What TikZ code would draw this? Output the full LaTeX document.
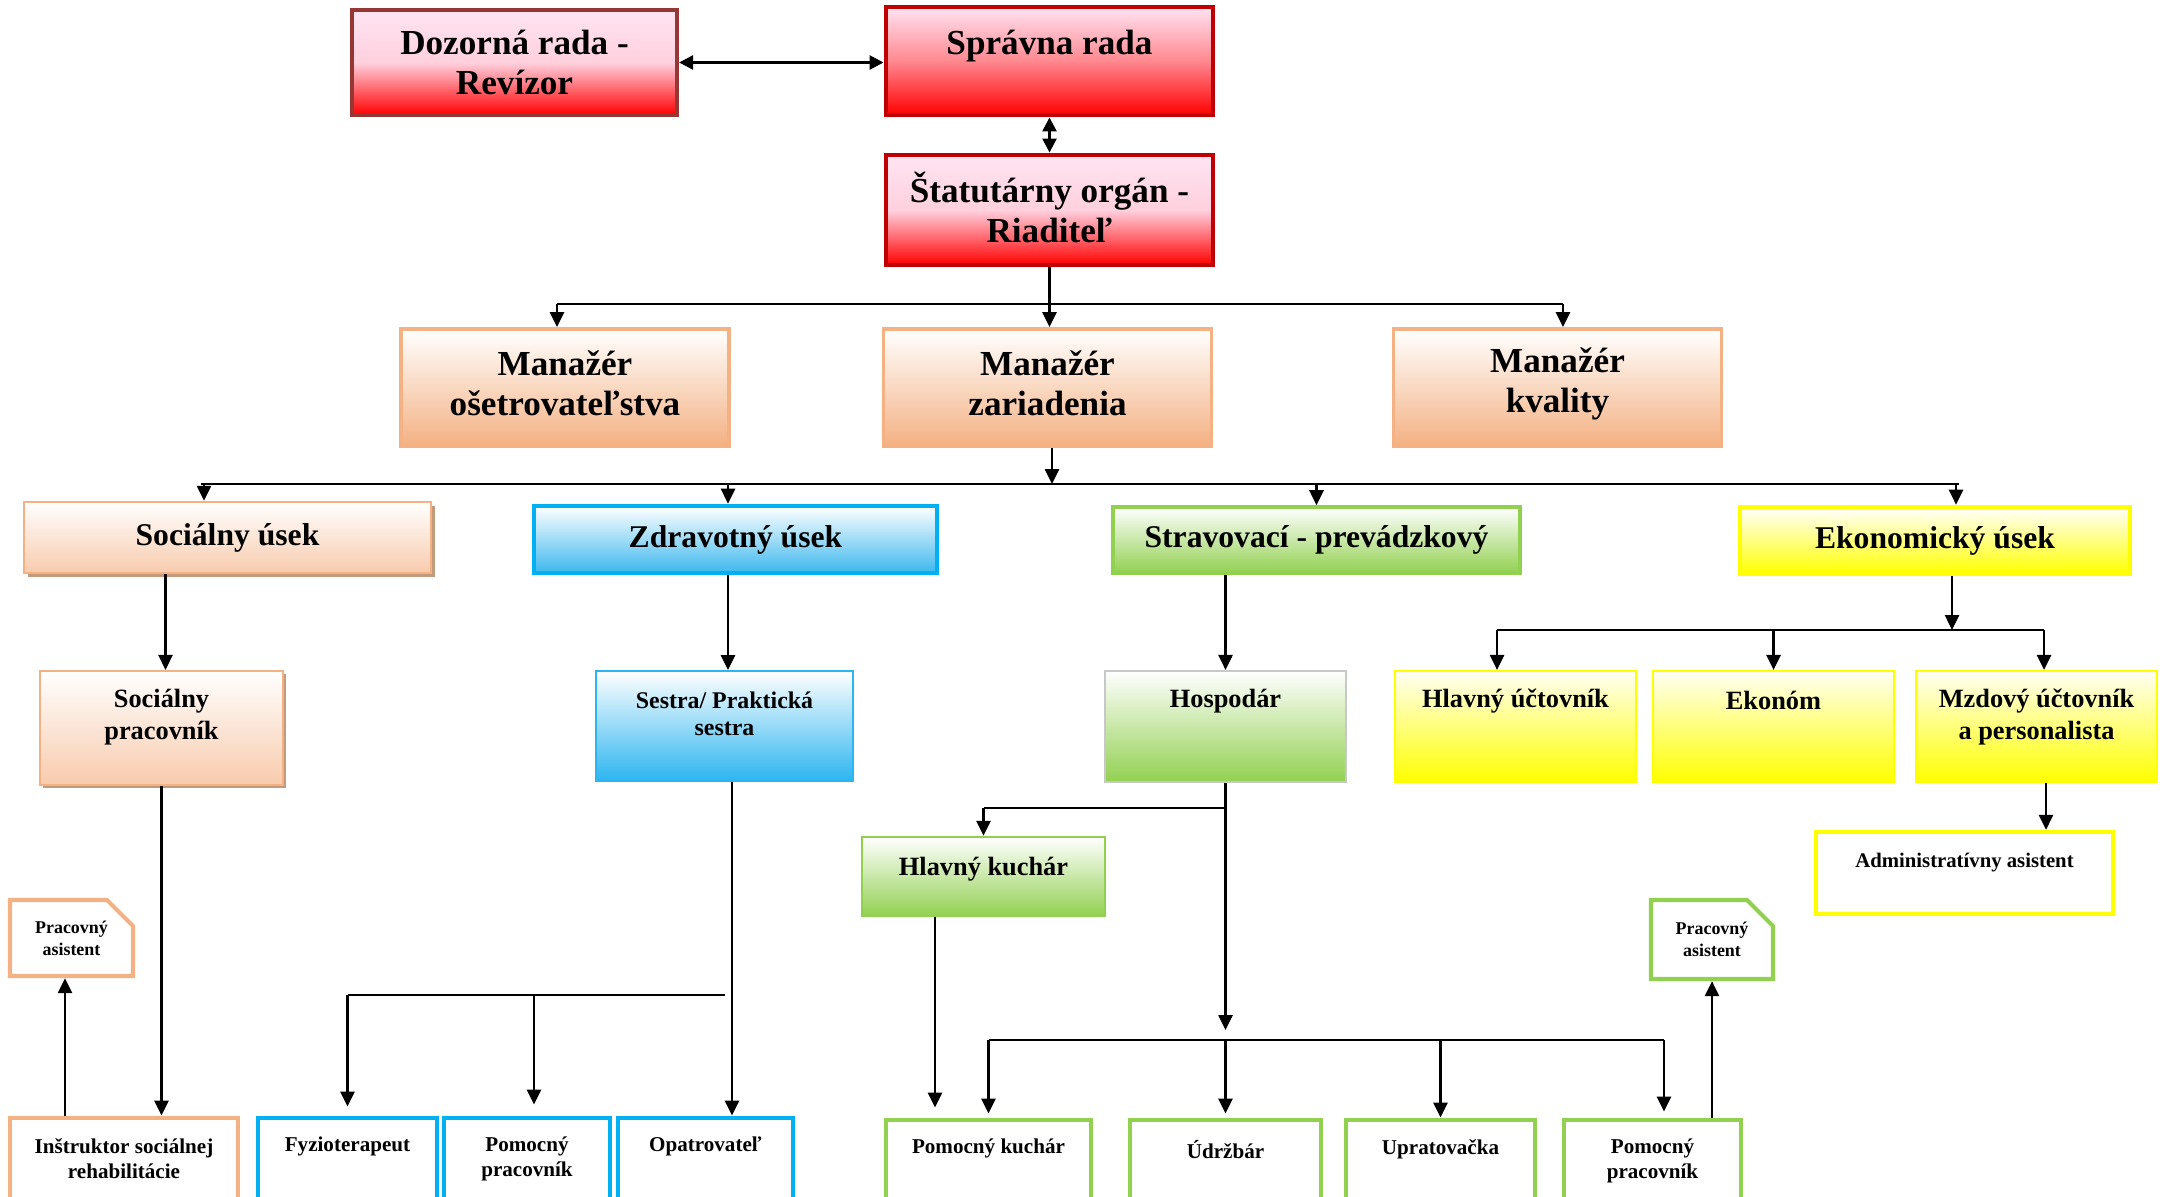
\documentclass[tikz,border=0pt]{standalone}
\usepackage{fontspec}
\setmainfont{Liberation Serif}
\usetikzlibrary{positioning,arrows.meta,shapes.misc,shadows}
\definecolor{redline}{HTML}{C00000}
\definecolor{dozline}{HTML}{953735}
\definecolor{redtop}{HTML}{FFE4F2}
\definecolor{redmid}{HTML}{FFD0DE}
\definecolor{redmidii}{HTML}{FF8890}
\definecolor{redbot}{HTML}{FF0000}
\definecolor{orange}{HTML}{F4B183}
\definecolor{orangelt}{HTML}{F8CBAD}
\definecolor{socshadow}{HTML}{C49A7C}
\definecolor{blue}{HTML}{00B0F0}
\definecolor{bluebot}{HTML}{3DB8EE}
\definecolor{bluelt}{HTML}{2CB5F0}
\definecolor{green}{HTML}{92D050}
\definecolor{grayline}{HTML}{C8C8C8}
\definecolor{yellow}{HTML}{FFFF00}
\definecolor{yellowtop}{HTML}{FFFFF4}
\tikzset{
  fx/.style      = {font=\fontsize{10}{11.4}\selectfont\bfseries},
  fix/.style     = {font=\fontsize{9}{10.5}\selectfont\bfseries},
  fvii/.style    = {font=\fontsize{7.5}{9}\selectfont\bfseries},
  fvis/.style    = {font=\fontsize{6.8}{7.7}\selectfont\bfseries},
  fvi/.style     = {font=\fontsize{6}{7.1}\selectfont\bfseries},
  fv/.style      = {font=\fontsize{5.1}{6.2}\selectfont\bfseries},
  lab/.style     = {inner sep=0pt, align=center, anchor=center},
  box/.style     = {rectangle, inner sep=1pt, align=center},
  dozorbox/.style= {box, fx, draw=dozline, line width=1.2pt, top color=redtop, bottom color=redbot, middle color=redmid},
  redbox/.style  = {box, fx, draw=redline, line width=1.4pt, top color=redtop, bottom color=redbot, middle color=redmid},
  manbox/.style  = {box, fx, draw=orange, line width=1.1pt, top color=white, bottom color=orange},
  socdept/.style = {box, fix, draw=orange, line width=0.7pt, top color=white, bottom color=orangelt,
                    drop shadow={shadow xshift=0.35mm, shadow yshift=-0.35mm, fill=socshadow, opacity=1}},
  zdrdept/.style = {box, fix, draw=blue, line width=1.3pt, top color=white, bottom color=bluebot},
  strdept/.style = {box, fix, draw=green, line width=1pt, top color=white, bottom color=green},
  ekodept/.style = {box, fix, draw=yellow, line width=1.3pt, top color=white, bottom color=yellow},
  socpos/.style  = {box, draw=orange, line width=0.6pt, top color=white, bottom color=orangelt,
                    drop shadow={shadow xshift=0.3mm, shadow yshift=-0.3mm, fill=socshadow, opacity=1}},
  sespos/.style  = {box, draw=bluelt, line width=0.5pt, top color=white, bottom color=bluelt},
  hospos/.style  = {box, draw=grayline, line width=0.6pt, top color=white, bottom color=green},
  kucpos/.style  = {box, draw=green, line width=0.7pt, top color=white, bottom color=green},
  ekopos/.style  = {box, draw=yellow, line width=0.6pt, top color=yellowtop, bottom color=yellow},
  leaf/.style    = {box, fill=white, line width=1.4pt, draw=#1},
  pasbox/.style  = {chamfered rectangle, chamfered rectangle corners=north east,
                    chamfered rectangle xsep=1.3mm, chamfered rectangle ysep=1.3mm,
                    inner sep=0pt, fv, align=center, fill=white, line width=1.2pt, draw=#1},
  conn/.style    = {draw=black, line width=0.75pt},
  arr/.style     = {conn, -{Triangle[length=1.5mm,width=1.4mm]}},
  arrboth/.style = {conn, {Triangle[length=1.4mm,width=1.4mm]}-{Triangle[length=1.4mm,width=1.4mm]}},
}
\begin{document}
\begin{tikzpicture}[x=0.1mm,y=-0.1mm]
\path[use as bounding box, fill=white] (0,0) rectangle (2174,1197);

% ---------- vedenie ----------
\node[dozorbox, minimum width=32.5mm, minimum height=10.5mm] (dozor) at (514.5,62.5) {Dozorná rada -\\Revízor};
\node[redbox, minimum width=32.7mm, minimum height=10.8mm, middle color=redmidii,
      label={[lab, fx, yshift=-4.1mm]north:Správna rada}] (sprava) at (1049.5,61) {};
\node[redbox, minimum width=32.7mm, minimum height=11mm,
      label={[lab, fx, yshift=0.3mm]center:Štatutárny orgán -\\Riaditeľ}] (statut) at (1049.5,210) {};

\draw[arrboth] (dozor.east) -- (dozor.east -| sprava.west);
\draw[arrboth] (sprava.south) -- (statut.north);

% ---------- manazeri ----------
\node[manbox, minimum width=32.8mm, minimum height=11.7mm,
      label={[lab, fx, yshift=0.4mm]center:Manažér\\ošetrovateľstva}] (man1) at (565,387.5) {};
\node[manbox, minimum width=32.8mm, minimum height=11.7mm,
      label={[lab, fx, yshift=0.4mm]center:Manažér\\zariadenia}] (man2) at (1047.5,387.5) {};
\node[manbox, minimum width=32.8mm, minimum height=11.7mm,
      label={[lab, fx, yshift=0.4mm]center:Manažér\\kvality}] (man3) at (1557.5,387.5) {};

\coordinate (b1) at (statut.south |- 0,304);
\draw[conn] (statut.south) -- (b1);
\draw[conn] ([xshift=-0.8mm]b1 -| man1.north) -- ([xshift=0.55mm]b1 -| man3.north);
\draw[arr] ([xshift=-0.8mm]b1 -| man1.north) -- ([xshift=-0.8mm]man1.north);
\draw[arr] (b1) -- (b1 |- man2.north);
\draw[arr] ([xshift=0.55mm]b1 -| man3.north) -- ([xshift=0.55mm]man3.north);

% ---------- useky ----------
\node[socdept, minimum width=40.7mm, minimum height=7.1mm] (soc) at (227.5,537.5) {Sociálny úsek};
\node[zdrdept, minimum width=40.3mm, minimum height=6.7mm] (zdr) at (735.5,539.5) {Zdravotný úsek};
\node[strdept, minimum width=40.7mm, minimum height=6.6mm] (strav) at (1316.5,540) {Stravovací - prevádzkový};
\node[ekodept, minimum width=39mm, minimum height=6.7mm] (eko) at (1935,540.5) {Ekonomický úsek};

\coordinate (b2) at ([xshift=0.45mm]man2.south |- 0,484);
\coordinate (d1) at ([xshift=-2.35mm]soc.north);
\coordinate (d2) at ([xshift=-0.75mm]zdr.north);
\coordinate (d3) at (strav.north);
\coordinate (d4) at ([xshift=2.1mm]eko.north);
\draw[arr] ([xshift=0.45mm]man2.south) -- (b2);
\draw[conn] ([xshift=-0.3mm]b2 -| d1) -- ([xshift=0.3mm]b2 -| d4);
\foreach \d in {d1,d2,d3,d4}
  \draw[arr] (b2 -| \d) -- (\d);

% ---------- socialny usek ----------
\node[socpos, minimum width=24.3mm, minimum height=11.4mm,
      label={[lab, fvii, yshift=-4.7mm]north:Sociálny\\pracovník}] (socprac) at (161.5,728) {};
\node[leaf=orange, minimum width=22.8mm, minimum height=9.2mm,
      label={[lab, fvi, yshift=-4.3mm]north:Inštruktor sociálnej\\rehabilitácie}] (instr) at (124,1164) {};
\node[pasbox=orange, minimum width=12.3mm, minimum height=7.6mm] (paso) at (71.5,938) {Pracovný\\asistent};

\draw[arr] ([xshift=0.4mm]soc.south -| socprac.north) -- ([xshift=0.4mm]socprac.north);
\draw[arr] (socprac.south) -- (socprac.south |- instr.north);
\draw[arr] ([xshift=-0.65mm]instr.north -| paso.south) -- ([xshift=-0.65mm]paso.south);

% ---------- zdravotny usek ----------
\node[sespos, minimum width=25.7mm, minimum height=11mm,
      label={[lab, fvis, yshift=-4.4mm]north:Sestra/ Praktická\\sestra}] (sestra) at (724.5,726) {};
\node[leaf=blue, minimum width=17.9mm, minimum height=9.2mm,
      label={[lab, fvi, yshift=-3.1mm]north:Fyzioterapeut}] (fyzio) at (347.5,1164) {};
\node[leaf=blue, minimum width=16.6mm, minimum height=9.2mm,
      label={[lab, fvi, yshift=-4.3mm]north:Pomocný\\pracovník}] (ppracb) at (527,1164) {};
\node[leaf=blue, minimum width=17.5mm, minimum height=9.2mm,
      label={[lab, fvi, yshift=-3.1mm]north:Opatrovateľ}] (opatr) at (705.5,1164) {};

\draw[arr] ([xshift=0.35mm]zdr.south -| sestra.north) -- ([xshift=0.35mm]sestra.north);
\draw[arr] ([xshift=0.75mm]sestra.south) -- ([xshift=0.75mm]sestra.south |- opatr.north);
\coordinate (b5) at (fyzio.north |- 0,995);
\draw[conn] (b5) -- (b5 -| sestra.south);
\draw[arr, shorten >=0.9mm] (b5) -- (fyzio.north);
\draw[arr, shorten >=1.1mm] ([xshift=0.7mm]b5 -| ppracb.north) -- ([xshift=0.7mm]ppracb.north);

% ---------- stravovaci - prevadzkovy ----------
\node[hospos, minimum width=24.1mm, minimum height=11.1mm,
      label={[lab, fvii, yshift=-3.1mm]north:Hospodár}] (hosp) at (1225.5,726.5) {};
\node[kucpos, minimum width=24.3mm, minimum height=7.9mm,
      label={[lab, fvii, yshift=-3.3mm]north:Hlavný kuchár}] (kuchar) at (983.5,876.5) {};
\node[leaf=green, minimum width=20.5mm, minimum height=9mm,
      label={[lab, fvi, yshift=-3.1mm]north:Pomocný kuchár}] (pkuch) at (988.5,1165) {};
\node[leaf=green, minimum width=19.1mm, minimum height=9mm,
      label={[lab, fvi, yshift=-3.2mm]north:Údržbár}] (udrz) at (1225.5,1165) {};
\node[leaf=green, minimum width=18.9mm, minimum height=9mm,
      label={[lab, fvi, yshift=-3.2mm]north:Upratovačka}] (uprat) at (1440.5,1165) {};
\node[leaf=green, minimum width=17.7mm, minimum height=9mm,
      label={[lab, fvi, yshift=-4.35mm]north:Pomocný\\pracovník}] (ppracg) at (1652.5,1165) {};
\node[pasbox=green, minimum width=12.2mm, minimum height=7.9mm] (pasg) at (1712,939.5) {Pracovný\\asistent};

\draw[arr] (strav.south -| hosp.north) -- (hosp.north);
\coordinate (h1) at (hosp.south |- 0,808);
\coordinate (b4) at (hosp.south |- 0,1040);
\draw[arr] (hosp.south) -- ([yshift=1mm]b4);
\draw[conn] (h1) -- (h1 -| kuchar.north);
\draw[arr] (h1 -| kuchar.north) -- (kuchar.north);
\draw[arr, shorten >=1mm] ([xshift=-4.85mm]kuchar.south) -- ([xshift=-4.85mm]kuchar.south |- pkuch.north);
\draw[conn] (b4 -| pkuch.north) -- ([xshift=1.15mm]b4 -| ppracg.north);
\draw[arr, shorten >=0.4mm] (b4 -| pkuch.north) -- (pkuch.north);
\draw[arr, shorten >=0.4mm] (b4 -| udrz.north) -- (udrz.north);
\draw[arr] (b4 -| uprat.north) -- (uprat.north);
\draw[arr, shorten >=0.6mm] ([xshift=1.15mm]b4 -| ppracg.north) -- ([xshift=1.15mm]ppracg.north);
\draw[arr] (ppracg.north -| pasg.south) -- (pasg.south);

% ---------- ekonomicky usek ----------
\node[ekopos, minimum width=24.1mm, minimum height=11.1mm,
      label={[lab, fvii, yshift=-3.1mm]north:Hlavný účtovník}] (hlu) at (1515.5,726.5) {};
\node[ekopos, minimum width=24.1mm, minimum height=11.1mm,
      label={[lab, fvii, yshift=-3.1mm]north:Ekonóm}] (ekon) at (1773.5,726.5) {};
\node[ekopos, minimum width=24.1mm, minimum height=11.1mm,
      label={[lab, fvii, yshift=-4.7mm]north:Mzdový účtovník\\a personalista}] (mzd) at (2036.5,726.5) {};
\node[leaf=yellow, minimum width=29.7mm, minimum height=8.2mm, line width=1.2pt,
      label={[lab, font=\fontsize{5.9}{7}\selectfont\bfseries, yshift=-3.3mm]north:Administratívny asistent}] (admin) at (1964.5,873) {};

\coordinate (b3) at ([xshift=1.7mm]eko.south |- 0,630);
\coordinate (e1) at ([xshift=-1.85mm]hlu.north);
\coordinate (e2) at (ekon.north);
\coordinate (e3) at ([xshift=0.75mm]mzd.north);
\draw[arr] ([xshift=1.7mm]eko.south) -- (b3);
\draw[conn] (b3 -| e1) -- (b3 -| e3);
\foreach \e in {e1,e2,e3}
  \draw[arr] (b3 -| \e) -- (\e);
\draw[arr] ([xshift=0.95mm]mzd.south) -- ([xshift=0.95mm]mzd.south |- admin.north);

\end{tikzpicture}
\end{document}
